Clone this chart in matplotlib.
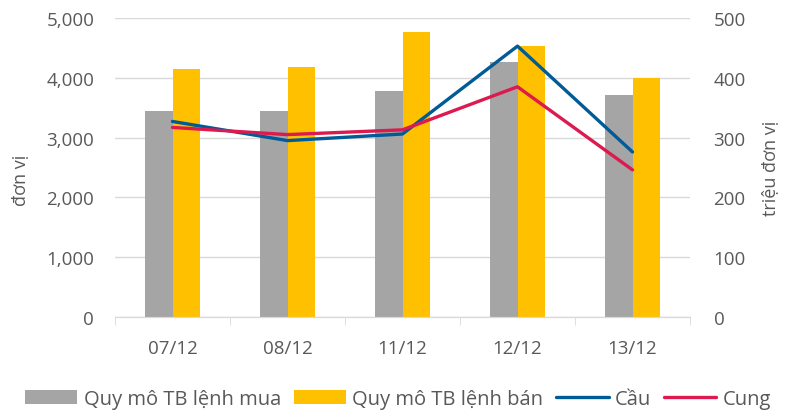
import numpy as np
import matplotlib
matplotlib.use("Agg")
import matplotlib.pyplot as plt
from matplotlib.ticker import FuncFormatter

plt.rcParams['font.family'] = ['Open Sans', 'DejaVu Sans']

dates = ["07/12", "08/12", "11/12", "12/12", "13/12"]
mua = [3440, 3450, 3780, 4265, 3705]      # Quy mô TB lệnh mua
ban = [4140, 4186, 4760, 4524, 4000]      # Quy mô TB lệnh bán
cau = [327, 295, 306, 453, 276]           # Cầu (triệu đơn vị)
cung = [317, 305, 313, 385, 246]          # Cung (triệu đơn vị)

txt = "#595959"
fig = plt.figure(figsize=(7.92, 4.14), dpi=100)
ax = fig.add_axes([115/792, 1-318/414, 575/792, 299/414])
ax2 = ax.twinx()

x = np.arange(len(dates))
w = 0.236
ax.bar(x - w/2, mua, w, color="#a5a5a5", label="Quy mô TB lệnh mua", zorder=2)
ax.bar(x + w/2, ban, w, color="#ffc000", label="Quy mô TB lệnh bán", zorder=2)
ax2.plot(x, cau, color="#005b96", lw=2.4, label="Cầu", solid_capstyle="round")
ax2.plot(x, cung, color="#dc1a4f", lw=2.4, label="Cung", solid_capstyle="round")

ax.set_xlim(-0.5, 4.5)
ax.set_ylim(0, 5000)
ax2.set_ylim(0, 500)
ax.set_yticks(range(0, 5001, 1000))
ax2.set_yticks(range(0, 501, 100))
ax.yaxis.set_major_formatter(FuncFormatter(lambda v, p: f"{int(v):,}"))
ax.grid(axis="y", color="#d9d9d9", lw=1, zorder=0)
ax.set_axisbelow(True)

ax.set_xticks(x)
ax.set_xticklabels(dates)
ax.set_xticks(np.arange(-0.5, 5, 1), minor=True)
ax.tick_params(axis="x", which="major", length=0, pad=16, labelsize=13.5, labelcolor=txt)
ax.tick_params(axis="x", which="minor", length=6, color="#d9d9d9")
ax.tick_params(axis="y", length=0, pad=15, labelsize=13.5, labelcolor=txt)
ax2.tick_params(axis="y", length=0, pad=17, labelsize=13.5, labelcolor=txt)

for a in (ax, ax2):
    for s in ("top", "left", "right"):
        a.spines[s].set_visible(False)
    a.spines["bottom"].set_color("#d9d9d9")

ax.set_ylabel("đơn vị", fontsize=13, color=txt)
ax.yaxis.set_label_coords(-0.147, 0.46)
ax2.set_ylabel("triệu đơn vị", fontsize=13, color=txt)
ax2.yaxis.set_label_coords(1.126, 0.5)

h1, l1 = ax.get_legend_handles_labels()
h2, l2 = ax2.get_legend_handles_labels()
fig.legend(h1 + h2, l1 + l2, loc="center", bbox_to_anchor=(398/792, 1-400/414), ncol=4,
           frameon=False, fontsize=14.5, labelcolor=txt, handlelength=2.6,
           handleheight=0.65, handletextpad=0.3, columnspacing=0.65,
           borderpad=0, borderaxespad=0)

fig.savefig("out.png", dpi=100)
